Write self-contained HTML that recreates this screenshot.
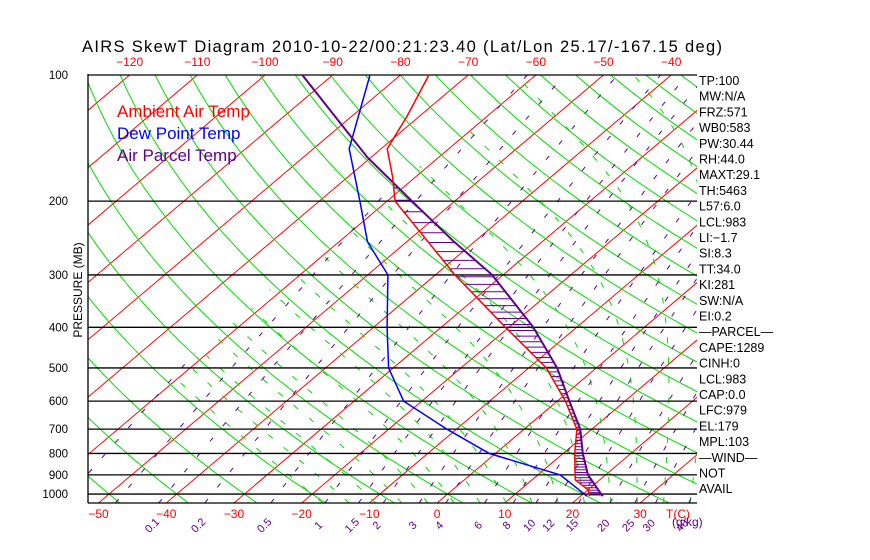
<!DOCTYPE html>
<html><head><meta charset="utf-8"><style>
html,body{margin:0;padding:0;background:#fff;}
svg{display:block;font-family:"Liberation Sans",sans-serif;}
</style></head><body>
<svg id="chart" width="870" height="560" viewBox="0 0 870 560" xmlns="http://www.w3.org/2000/svg">
<rect width="870" height="560" fill="#fff"/>
<defs><clipPath id="clip"><rect x="88" y="74" width="609" height="429"/></clipPath></defs>
<text x="82" y="52" font-size="16.5" fill="#000" textLength="640">AIRS SkewT Diagram 2010-10-22/00:21:23.40 (Lat/Lon 25.17/-167.15 deg)</text>
<g id="bg" clip-path="url(#clip)"></g>
<g id="frame"></g>
<g id="profiles" clip-path="url(#clip)"></g>
<g id="labels"></g>
<text x="117" y="117" font-size="17" fill="#f00">Ambient Air Temp</text>
<text x="117" y="139" font-size="17" fill="#00f">Dew Point Temp</text>
<text x="117" y="161" font-size="17" fill="#60008c">Air Parcel Temp</text>
<text transform="translate(82,290) rotate(-90)" text-anchor="middle" font-size="12" fill="#000">PRESSURE (MB)</text>
<text x="672" y="526" font-size="12" fill="#60008c">(g/kg)</text>
</svg>
<script>
const pLevels=[100,125,150,175,200,300,400,500,600,700,800,900,925,978,1012];
const tempC=[-75.8,-71.9,-69.1,-63.4,-58.8,-37.1,-20.5,-7.4,1.2,7.8,11.7,15.5,16.4,20.1,21.3];
const dewLevels=[100,150,200,250,300,400,500,600,700,800,900,1012];
const dewC=[-84.5,-74.7,-64,-55.8,-47,-38,-30.7,-22.7,-11.4,-0.9,13.3,21.0];
const parcelLevels=[100,157,200,250,300,400,500,600,700,800,900,1012];
const parcelC=[-94.5,-70.6,-56.3,-43,-31.6,-16.4,-5.8,1.8,8.3,12.9,17.4,23.3];
const pTicks=[100,200,300,400,500,600,700,800,900,1000];
const topTicks=[-120,-110,-100,-90,-80,-70,-60,-50,-40];
const botTicks=[-50,-40,-30,-20,-10,0,10,20,30];
const mixRatios=[0.1,0.2,0.5,1,1.5,2,3,4,6,8,10,12,15,20,25,30,40];
const mixLabels=["0.1","0.2","0.5","1","1.5","2","3","4","6","8","10","12","15","20","25","30","40"];
const extraMix=[0.005,0.01,0.02,0.05];
const statLabels=["TP:100","MW:N/A","FRZ:571","WB0:583","PW:30.44","RH:44.0","MAXT:29.1","TH:5463","L57:6.0","LCL:983","LI:\u22121.7","SI:8.3","TT:34.0","KI:281","SW:N/A","EI:0.2","\u2014PARCEL\u2014","CAPE:1289","CINH:0","LCL:983","CAP:0.0","LFC:979","EL:179","MPL:103","\u2014WIND\u2014"," NOT","AVAIL"];

const NS="http://www.w3.org/2000/svg";
const TMIN=-62;
function Y(p){return 75+182*Math.log(p/100);}
function X(t,p){return 437+6.77*t+(503-Y(p))*1.18;}
function mk(tag,attrs,parent){const e=document.createElementNS(NS,tag);for(const k in attrs)e.setAttribute(k,attrs[k]);parent.appendChild(e);return e;}
function interp(ps,vs,p){for(let i=0;i<ps.length-1;i++){if(p>=ps[i]&&p<=ps[i+1]){const f=Math.log(p/ps[i])/Math.log(ps[i+1]/ps[i]);return vs[i]+f*(vs[i+1]-vs[i]);}}return null;}
const bg=document.getElementById('bg'),fr=document.getElementById('frame'),pr=document.getElementById('profiles'),lb=document.getElementById('labels');

for(let t=-160;t<=50;t+=10){
  const l=mk('line',{x1:X(t,1050),y1:Y(1050),x2:X(t,100),y2:Y(100),stroke:'#f00','stroke-width':1},bg);
  
  
}
for(let th=-50;th<=200;th+=10){
  let pts=[];
  for(let p=1050;p>=100;p-=10){const T=(th+273.15)*Math.pow(p/1000,0.286)-273.15;pts.push(X(T,p).toFixed(1)+','+Y(p).toFixed(1));}
  const l=mk('polyline',{points:pts.join(' '),fill:'none',stroke:'#0d0','stroke-width':1},bg);
  
  
}
function es(T){return 6.112*Math.exp(17.67*T/(T+243.5));}
function dTdp(Tc,p){const T=Tc+273.15;const e=es(Tc);const rs=0.622*e/(p-e);const Lv=2.5e6,Rd=287,Cp=1005,eps=0.622;
  return (1/p)*(Rd*T+Lv*rs)/(Cp+Lv*Lv*rs*eps/(Rd*T*T));}
for(let tw=-20;tw<=40;tw+=4){
  let up=[],T=tw;
  for(let p=1000;p>=100;p-=5){if(T<TMIN)break;up.push([p,T]);T-=dTdp(T,p)*5;}
  let dn=[];T=tw;
  for(let p=1000;p<=1050;p+=5){dn.push([p,T]);T+=dTdp(T,p)*5;}
  const all=dn.reverse().concat(up);
  const l=mk('polyline',{points:all.map(a=>X(a[1],a[0]).toFixed(1)+','+Y(a[0]).toFixed(1)).join(' '),fill:'none',stroke:'#0d0','stroke-width':1,'stroke-dasharray':'6 14'},bg);
  
  
}
function tdFromW(w,p){const e=w*p/(622+w);const g=Math.log(e/6.112);return 243.5*g/(17.67-g);}
function mixLine(w){
  let pts=[];for(let p=1050;p>=100;p-=10){const t=tdFromW(w,p);if(t<TMIN)break;pts.push(X(t,p).toFixed(1)+','+Y(p).toFixed(1));}
  if(pts.length<2)return;
  const l=mk('polyline',{points:pts.join(' '),fill:'none',stroke:'#60008c','stroke-width':1,'stroke-dasharray':'5 15'},bg);
  
  
}
extraMix.forEach(mixLine);
mixRatios.forEach((w,i)=>{
  mixLine(w);
  const xl=X(tdFromW(w,1050),1050);
  const t=mk('text',{x:xl-4,y:528,'font-size':11,fill:'#60008c',transform:`rotate(-45 ${xl-4} 528)`,'text-anchor':'middle'},lb);
  t.textContent=mixLabels[i];
  
  
});
pTicks.forEach(p=>{
  const l=mk('line',{x1:88,y1:Y(p),x2:697,y2:Y(p),stroke:'#000','stroke-width':1.3},fr);
  
  
  const t=mk('text',{x:68,y:Y(p)+4,'font-size':11.5,fill:'#000','text-anchor':'end'},lb);
  t.textContent=p;
  
  
});
let b=mk('line',{x1:88,y1:503,x2:697,y2:503,stroke:'#000','stroke-width':1.3},fr);


b=mk('line',{x1:88,y1:74,x2:88,y2:503,stroke:'#000','stroke-width':1.3},fr);


topTicks.forEach(t=>{
  const e=mk('text',{x:X(t,100),y:66,'font-size':12,fill:'#f00','text-anchor':'middle'},lb);
  e.textContent=String(t).replace('-','\u2212');
  
  
});
botTicks.forEach(t=>{
  const e=mk('text',{x:X(t,1050),y:518,'font-size':12,fill:'#f00','text-anchor':'middle'},lb);
  e.textContent=String(t).replace('-','\u2212');
  
  
});
let tc=mk('text',{x:678,y:518,'font-size':12,fill:'#f00','text-anchor':'middle'},lb);
tc.textContent='T(C)';


statLabels.forEach((s,i)=>{
  const e=mk('text',{x:699,y:85+i*15.7,'font-size':12.5,fill:'#000'},lb);
  e.textContent=s;
  
  
});
for(let p=1005;p>=180;p-=13){
  const t=interp(pLevels,tempC,p),pc=interp(parcelLevels,parcelC,p);
  if(t!==null&&pc!==null&&pc>t){
    const l=mk('line',{x1:X(t,p),y1:Y(p),x2:X(pc,p),y2:Y(p),stroke:'#60008c','stroke-width':1},pr);
    
    
  }
}
function profile(ps,vs,color,name,w){
  const pts=ps.map((p,i)=>X(vs[i],p).toFixed(1)+','+Y(p).toFixed(1)).join(' ');
  const l=mk('polyline',{points:pts,fill:'none',stroke:color,'stroke-width':w},pr);
  
  
}
profile(dewLevels,dewC,'#00f','dew-point-line',1.5);
profile(parcelLevels,parcelC,'#60008c','parcel-temp-line',2);
profile(pLevels,tempC,'#f00','ambient-temp-line',1.5);
</script>
</body></html>
